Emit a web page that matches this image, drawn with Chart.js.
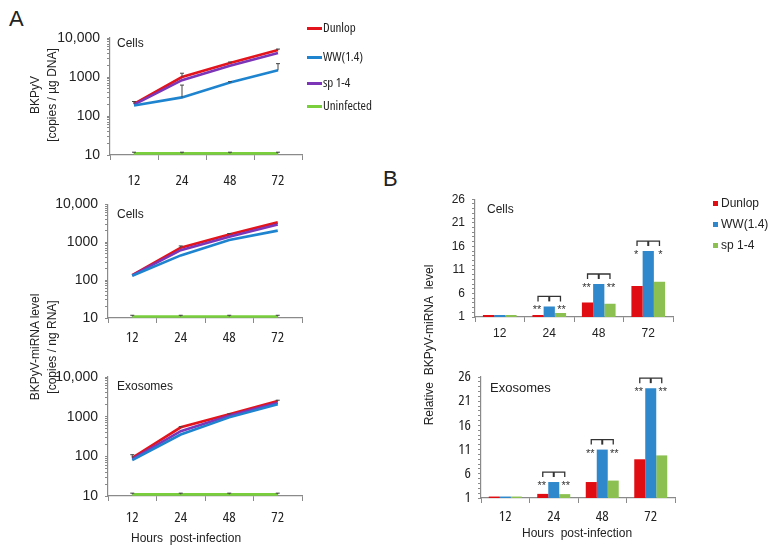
<!DOCTYPE html>
<html>
<head>
<meta charset="utf-8">
<script src="https://cdn.jsdelivr.net/npm/chart.js@4.4.0/dist/chart.umd.min.js"></script>
<style>
  html, body { margin: 0; padding: 0; background: #fff; }
  #page { position: relative; width: 772px; height: 549px; overflow: hidden; font-family: 'Liberation Sans', Arial, sans-serif; color: #222; }
  #page canvas { position: absolute; }
  .txt { position: absolute; white-space: nowrap; font-size: 12px; line-height: 14px; }
  .panel { position: absolute; font-size: 22px; line-height: 22px; }
  .ytitle { position: absolute; white-space: nowrap; font-size: 12px; line-height: 17px; text-align: center; transform: rotate(-90deg); transform-origin: 50% 50%; }
  .narrow { font-family: 'Open Sans', sans-serif; font-stretch: condensed; }
  .leg { position: absolute; font-size: 12px; line-height: 14px; white-space: nowrap; }
  .leg i { position: absolute; display: block; }
</style>
</head>
<body>
<div id="page">
  <div class="panel" style="left:9px; top:8px;">A</div>
  <div class="panel" style="left:383px; top:168px;">B</div>

  <canvas id="a1" width="400" height="186" style="left:0; top:0;"></canvas>
  <canvas id="a2" width="400" height="160" style="left:0; top:189px;"></canvas>
  <canvas id="a3" width="400" height="172" style="left:0; top:360px;"></canvas>
  <canvas id="b1" width="382" height="160" style="left:390px; top:185px;"></canvas>
  <canvas id="b2" width="382" height="175" style="left:390px; top:355px;"></canvas>

  <div class="txt" style="left:117px; top:36px;">Cells</div>
  <div class="txt" style="left:117px; top:207px;">Cells</div>
  <div class="txt" style="left:117px; top:379px;">Exosomes</div>
  <div class="txt" style="left:487px; top:202px;">Cells</div>
  <div class="txt" style="left:490px; top:381px; font-size:13px;">Exosomes</div>

  <!-- rotated axis titles: box width x height, centred on the wanted point -->
  <div class="ytitle" style="left:-16px; top:78px; width:120px; height:34px;">BKPyV<br>[copies / µg DNA]</div>
  <div class="ytitle" style="left:-16px; top:330px; width:120px; height:34px;">BKPyV-miRNA level<br>[copies / ng RNA]</div>
  <div class="ytitle" style="left:345px; top:336px; width:170px; height:18px;">Relative&nbsp; BKPyV-miRNA&nbsp; level</div>

  <div class="txt" style="left:131px; top:531px;">Hours&nbsp; post-infection</div>
  <div class="txt" style="left:522px; top:526px;">Hours&nbsp; post-infection</div>

  <div id="legA"></div>
  <div id="legB"></div>
</div>

<script>
// ---- data ----
const hours = ['12', '24', '48', '72'];
const strains = ['Dunlop', 'WW(1.4)', 'sp 1-4', 'Uninfected'];

// A, top: BKPyV DNA in cells (copies / ug DNA)
const dunlopDna = [205, 1000, 2300, 4900];
const wwDna = [185, 300, 720, 1480];
const spDna = [195, 830, 1950, 4100];
const uninfDna = [11, 11, 11, 11];
const dunlopDnaErr = [235, 1250, 2420, 5200];
const wwDnaErr = [null, 620, 760, 2200];

// A, middle: miRNA in cells (copies / ng RNA)
const dunlopMir = [135, 720, 1600, 3350];
const wwMir = [130, 450, 1150, 2030];
const spMir = [133, 620, 1400, 2950];
const uninfMir = [11, 11, 11, 11];
const dunlopMirErr = [null, 800, 1700, null];

// A, bottom: miRNA in exosomes
const dunlopExo = [92, 540, 1150, 2500];
const wwExo = [80, 355, 960, 2070];
const spExo = [85, 430, 1050, 2250];
const uninfExo = [11, 11, 11, 11];
const dunlopExoErr = [110, 560, 1180, 2600];

const uninfErr = [11.8, 11.8, 11.8, 11.8];

// B: relative miRNA level
const dunlopRelCells = [1.4, 1.4, 4.1, 7.6];
const wwRelCells = [1.4, 3.25, 8.0, 15.0];
const spRelCells = [1.4, 1.85, 3.8, 8.5];
const starsCells = ['', '**', '**', '*'];

const dunlopRelExo = [1.3, 1.85, 4.3, 9.0];
const wwRelExo = [1.3, 4.3, 11.0, 23.7];
const spRelExo = [1.3, 1.8, 4.6, 9.8];
const starsExo = ['', '**', '**', '**'];

const logTicks = [10, 100, 1000, 10000];
const logTickText = ['10', '100', '1000', '10,000'];
const relTicks = [1, 6, 11, 16, 21, 26];

// ---- colours / fonts ----
const RED = '#e3141c';
const BLUE = '#1f84cf';
const PURPLE = '#7d35b8';
const GREEN = '#79cf3c';
const BAR_RED = '#e00d12';
const BAR_BLUE = '#2e88cb';
const BAR_GREEN = '#8cc152';
const AXIS = '#8a8a8a';
const SANS = "'Liberation Sans', Arial, sans-serif";
// condensed face; the stretch keyword goes in through "weight" so it lands in the font string
const NARROW_FONT = { size: 15, family: "'Open Sans', sans-serif", weight: 'condensed' };
const SANS_FONT = { size: 12, family: SANS };

// ---- legends (html) ----
const legA = document.getElementById('legA');
[[RED, 28], [BLUE, 57], [PURPLE, 83], [GREEN, 106]].forEach((it, i) => {
  const d = document.createElement('div');
  d.className = 'leg narrow';
  d.style.left = '307px';
  d.style.top = (it[1] - 8) + 'px';
  d.style.fontSize = '13px';
  d.innerHTML = '<i style="left:0; top:7px; width:15px; height:3px; background:' + it[0] + '"></i>' +
    '<span style="margin-left:16px">' + strains[i] + '</span>';
  legA.appendChild(d);
});
const legB = document.getElementById('legB');
[[BAR_RED, 203], [BAR_BLUE, 224], [BAR_GREEN, 245]].forEach((it, i) => {
  const d = document.createElement('div');
  d.className = 'leg';
  d.style.left = '713px';
  d.style.top = (it[1] - 7) + 'px';
  d.innerHTML = '<i style="left:0; top:5px; width:5px; height:5px; background:' + it[0] + '"></i>' +
    '<span style="margin-left:8px">' + strains[i] + '</span>';
  legB.appendChild(d);
});

// ---- plugin: error bars (upper caps) ----
const errBarPlugin = {
  id: 'errbars',
  afterDatasetsDraw(chart, args, opts) {
    const ups = opts.upper || [];
    const ctx = chart.ctx;
    const y = chart.scales.y;
    ctx.save();
    ctx.strokeStyle = '#444';
    ctx.lineWidth = 1;
    ups.forEach((arr, di) => {
      if (!arr) return;
      const meta = chart.getDatasetMeta(di);
      arr.forEach((u, i) => {
        if (u == null) return;
        const pt = meta.data[i];
        const yTop = y.getPixelForValue(u);
        ctx.beginPath();
        ctx.moveTo(pt.x, pt.y);
        ctx.lineTo(pt.x, yTop);
        ctx.moveTo(pt.x - 2, yTop);
        ctx.lineTo(pt.x + 2, yTop);
        ctx.stroke();
      });
    });
    ctx.restore();
  }
};

// ---- plugin: significance brackets and stars ----
const bracketPlugin = {
  id: 'brackets',
  afterDatasetsDraw(chart, args, opts) {
    const stars = opts.stars || [];
    const ctx = chart.ctx;
    const m0 = chart.getDatasetMeta(0), m1 = chart.getDatasetMeta(1), m2 = chart.getDatasetMeta(2);
    ctx.save();
    ctx.strokeStyle = '#333';
    ctx.fillStyle = '#333';
    ctx.font = '11px ' + SANS;
    ctx.textAlign = 'center';
    ctx.textBaseline = 'middle';
    stars.forEach((s, i) => {
      if (!s) return;
      const x0 = m0.data[i].x, x1 = m1.data[i].x, x2 = m2.data[i].x;
      const top = m1.data[i].y;
      const yb = top - 10;
      ctx.lineWidth = 1.3;
      ctx.beginPath();
      ctx.moveTo(x0, yb + 5); ctx.lineTo(x0, yb); ctx.lineTo(x2, yb); ctx.lineTo(x2, yb + 5);
      ctx.stroke();
      ctx.lineWidth = 2;
      ctx.beginPath();
      ctx.moveTo(x1, yb); ctx.lineTo(x1, yb + 5);
      ctx.stroke();
      ctx.fillText(s, x0 - 1, top + 4);
      ctx.fillText(s, x2 + 1, top + 4);
    });
    ctx.restore();
  }
};

// ---- builders ----
function lineDataset(data, color) {
  return { data: data, borderColor: color, backgroundColor: color, borderWidth: 2.6, pointRadius: 0, tension: 0, fill: false };
}

// box = canvas size and chart area inside canvas
function makeLineChart(id, series, errs, box) {
  new Chart(document.getElementById(id), {
    type: 'line',
    data: {
      labels: hours,
      // drawn in this order so red ends up on top
      datasets: [
        lineDataset(series[3], GREEN),
        lineDataset(series[1], BLUE),
        lineDataset(series[2], PURPLE),
        lineDataset(series[0], RED)
      ]
    },
    options: {
      responsive: false,
      animation: false,
      layout: { padding: { left: 0, top: box.top, right: box.w - box.right, bottom: 0 } },
      plugins: {
        legend: { display: false },
        tooltip: { enabled: false },
        errbars: { upper: [uninfErr, errs[1], null, errs[0]] }
      },
      scales: {
        x: {
          offset: true,
          afterFit: s => { s.height = box.h - box.bottom; },
          border: { color: AXIS, width: 1.2 },
          grid: { offset: true, drawOnChartArea: false, tickLength: 5, color: AXIS },
          ticks: { padding: box.xpad, color: '#222', font: NARROW_FONT }
        },
        y: {
          type: 'logarithmic',
          min: 10,
          max: 10000,
          afterFit: s => { s.width = box.left; },
          afterBuildTicks: s => {
            // decades plus the 2..9 minor steps
            const t = [];
            for (let d = 10; d < 10000; d *= 10) {
              for (let k = 1; k < 10; k++) t.push({ value: d * k });
            }
            t.push({ value: 10000 });
            s.ticks = t;
          },
          border: { color: AXIS, width: 1.2 },
          grid: { drawOnChartArea: false, tickLength: 3, color: AXIS },
          ticks: {
            autoSkip: false,
            padding: 7,
            color: '#222',
            font: { size: 14, family: SANS },
            callback: v => {
              const k = logTicks.indexOf(v);
              return k >= 0 ? logTickText[k] : '';
            }
          }
        }
      }
    },
    plugins: [errBarPlugin]
  });
}

function barDataset(data, color) {
  return { data: data, backgroundColor: color, borderWidth: 0, barPercentage: 1, categoryPercentage: 0.68 };
}

function makeBarChart(id, series, stars, box, tickFont) {
  new Chart(document.getElementById(id), {
    type: 'bar',
    data: {
      labels: hours,
      datasets: [
        barDataset(series[0], BAR_RED),
        barDataset(series[1], BAR_BLUE),
        barDataset(series[2], BAR_GREEN)
      ]
    },
    options: {
      responsive: false,
      animation: false,
      layout: { padding: { left: 0, top: box.top, right: box.w - box.right, bottom: 0 } },
      plugins: {
        legend: { display: false },
        tooltip: { enabled: false },
        brackets: { stars: stars }
      },
      scales: {
        x: {
          afterFit: s => { s.height = box.h - box.bottom; },
          border: { color: AXIS, width: 1.2 },
          grid: { offset: true, drawOnChartArea: false, tickLength: 5, color: AXIS },
          ticks: { padding: box.xpad, color: '#222', font: tickFont }
        },
        y: {
          min: 1,
          max: 26,
          afterFit: s => { s.width = box.left; },
          border: { color: AXIS, width: 1.2 },
          grid: { drawOnChartArea: false, tickLength: 3, color: AXIS },
          ticks: {
            stepSize: 1,
            autoSkip: false,
            padding: 7,
            color: '#222',
            font: tickFont,
            callback: v => relTicks.indexOf(v) >= 0 ? String(v) : ''
          }
        }
      }
    },
    plugins: [bracketPlugin]
  });
}

// ---- draw the five panels ----
makeLineChart('a1', [dunlopDna, wwDna, spDna, uninfDna], [dunlopDnaErr, wwDnaErr],
  { w: 400, h: 186, left: 110, right: 302, top: 38, bottom: 155, xpad: 12 });
makeLineChart('a2', [dunlopMir, wwMir, spMir, uninfMir], [dunlopMirErr, null],
  { w: 400, h: 160, left: 108, right: 302, top: 11, bottom: 129, xpad: 6 });
makeLineChart('a3', [dunlopExo, wwExo, spExo, uninfExo], [dunlopExoErr, null],
  { w: 400, h: 172, left: 108, right: 302, top: 17, bottom: 136, xpad: 8 });

makeBarChart('b1', [dunlopRelCells, wwRelCells, spRelCells], starsCells,
  { w: 382, h: 160, left: 85, right: 283, top: 13, bottom: 132, xpad: 4 }, SANS_FONT);
makeBarChart('b2', [dunlopRelExo, wwRelExo, spRelExo], starsExo,
  { w: 382, h: 175, left: 91, right: 285, top: 22, bottom: 143, xpad: 5 }, NARROW_FONT);
</script>
</body>
</html>
